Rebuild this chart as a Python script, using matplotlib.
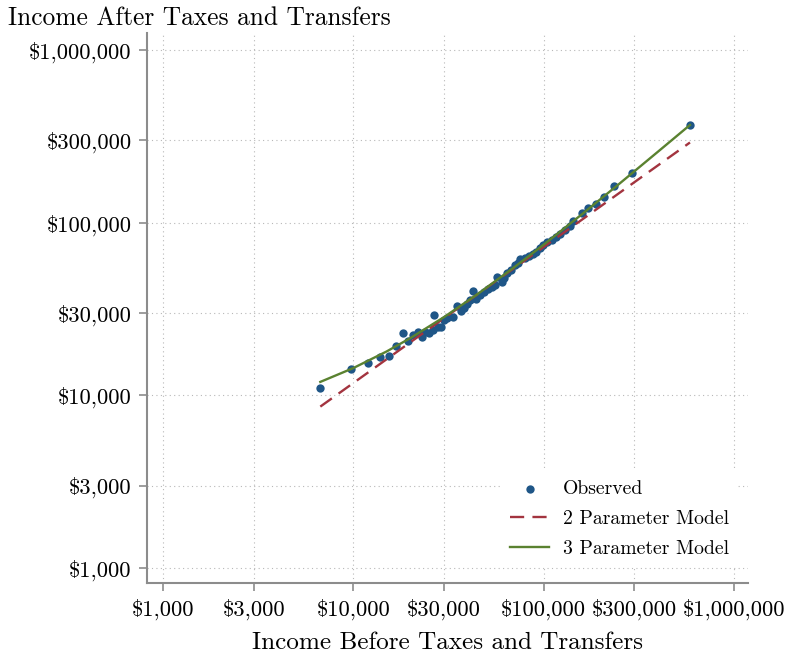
import matplotlib
matplotlib.use("Agg")
import matplotlib.pyplot as plt
from matplotlib.ticker import FixedLocator, NullLocator

# ---------------- data ----------------
obs_before = [6710, 9690, 11900, 13810, 15400, 16830, 18250, 19450, 20720, 21750,
              22960, 23810, 25080, 26080, 26650, 27770, 28730, 29970, 31080, 33290,
              34940, 36810, 38170, 39580, 41040, 42720, 44140, 46600, 48630, 51040,
              53560, 55870, 57100, 60230, 62310, 64470, 67420, 70730, 73350, 75600,
              79850, 83800, 87980, 91220, 95740, 99630, 104800, 110300, 116200, 122000,
              129600, 137600, 142200, 159200, 171200, 188500, 206900, 235200, 292500, 587900]
obs_after = [10990, 14130, 15460, 16580, 16870, 19200, 23080, 20730, 22230, 23290,
             21640, 23130, 22980, 23920, 29020, 25000, 24800, 27150, 28070, 28560,
             32940, 30610, 32080, 33820, 35680, 40400, 36160, 38140, 39700, 41040,
             42150, 43580, 48290, 45540, 47850, 50930, 52870, 56900, 58430, 61400,
             62050, 63730, 65890, 67940, 70890, 74280, 76800, 79400, 82640, 85670,
             90730, 95700, 101600, 113800, 121700, 128300, 140300, 163100, 194800, 367900]

# 2 parameter model (straight line in log-log), endpoints
m2_before = [6710, 587900]
m2_after = [8603, 291300]

# 3 parameter model
m3_before = [6710, 10000, 15000, 20000, 30000, 45000, 70000, 100000, 160000, 250000, 400000, 587900]
m3_after = [11960, 14380, 17970, 21490, 28400, 38580, 55110, 74510, 112460, 167960, 258200, 367900]

tick_vals = [1000, 3000, 10000, 30000, 100000, 300000, 1000000]
tick_labels = ["$1,000", "$3,000", "$10,000", "$30,000", "$100,000", "$300,000", "$1,000,000"]

# ---------------- style ----------------
plt.rcParams['font.family'] = ['cmr10', 'DejaVu Serif']
plt.rcParams['axes.unicode_minus'] = False

navy = "#1f5687"
maroon = "#a3343f"
green = "#5a8230"
gray = "#8c8c8c"

fig = plt.figure(figsize=(7.89, 6.58), dpi=100)
ax = fig.add_axes([0.1863, 0.1140, 0.7617, 0.8358])
ax.set_xscale('log')
ax.set_yscale('log')
ax.set_xlim(824, 1186000)
ax.set_ylim(818.7, 1254000)

ax.scatter(obs_before, obs_after, s=36, color=navy, zorder=3, label="Observed", linewidths=0)
ax.plot(m2_before, m2_after, color=maroon, lw=1.7, dashes=(6, 3.5), zorder=4, label="2 Parameter Model")
ax.plot(m3_before, m3_after, color=green, lw=1.7, zorder=5, label="3 Parameter Model")

for a in (ax.xaxis, ax.yaxis):
    a.set_major_locator(FixedLocator(tick_vals))
    a.set_minor_locator(NullLocator())
ax.set_xticklabels(tick_labels)
ax.set_yticklabels(tick_labels)
ax.tick_params(axis='both', which='major', direction='out', length=6, width=1.2,
               color=gray, labelsize=16.3, pad=5)

ax.grid(True, which='major', color='#b8b8b8', linestyle=(0, (1, 3)), linewidth=0.8)
ax.set_axisbelow(True)

for side in ('top', 'right'):
    ax.spines[side].set_visible(False)
for side in ('left', 'bottom'):
    ax.spines[side].set_color(gray)
    ax.spines[side].set_linewidth(1.5)

ax.set_xlabel("Income Before Taxes and Transfers", fontsize=18.1, labelpad=9)
fig.text(0.010, 0.973, "Income After Taxes and Transfers", fontsize=18.3, ha='left', va='center')

leg = ax.legend(loc='lower right', bbox_to_anchor=(1.0, 0.011), frameon=True, fancybox=False,
                edgecolor='none', facecolor='white', framealpha=1.0, fontsize=14.2,
                handlelength=2.0, handletextpad=0.7, labelspacing=0.62, borderpad=0.45,
                scatterpoints=1, markerscale=1.0)

fig.savefig("out.png", dpi=100)
